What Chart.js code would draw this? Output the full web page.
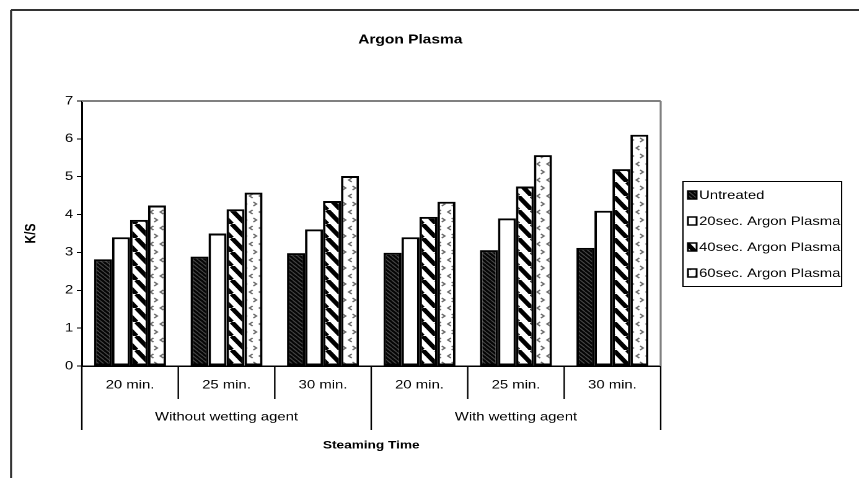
<!DOCTYPE html>
<html>
<head>
<meta charset="utf-8">
<script src="https://cdn.jsdelivr.net/npm/chart.js@4/dist/chart.umd.min.js"></script>
<style>
  html, body { margin: 0; padding: 0; background: #fff; overflow: hidden; }
  /* the original picture is stretched sideways, so the chart is drawn narrower and scaled */
  #wrap { position: absolute; left: 0; top: 0; width: 693px; height: 478px;
          transform: scaleX(1.2395); transform-origin: 0 0; }
</style>
</head>
<body>
<div id="wrap"><canvas id="chart"></canvas></div>
<script>
const categories = ["20 min.", "25 min.", "30 min.", "20 min.", "25 min.", "30 min."];
const groups = ["Without wetting agent", "With wetting agent"];
const groupSize = 3;
const seriesNames = ["Untreated", "20sec. Argon Plasma", "40sec. Argon Plasma", "60sec. Argon Plasma"];
const untreated = [2.82, 2.89, 2.98, 2.99, 3.06, 3.12];
const argon20 = [3.40, 3.50, 3.61, 3.40, 3.90, 4.10];
const argon40 = [3.86, 4.14, 4.36, 3.94, 4.74, 5.20];
const argon60 = [4.24, 4.58, 5.02, 4.34, 5.57, 6.11];
const yTicks = [0, 1, 2, 3, 4, 5, 6, 7];

const FONT = "'Liberation Sans', Arial, sans-serif";
Chart.defaults.font.family = FONT;
Chart.defaults.color = "#000";

// pattern tiles are drawn at 2x and scaled back for crisp fills
function makePattern(w, h, draw) {
  const c = document.createElement("canvas");
  c.width = w * 2;
  c.height = h * 2;
  const g = c.getContext("2d");
  g.scale(2, 2);
  draw(g, w, h);
  const p = document.createElement("canvas").getContext("2d").createPattern(c, "repeat");
  p.setTransform(new DOMMatrix().scale(0.5));
  return p;
}

function diag(g, w, h) {
  g.beginPath();
  [-w, 0, w].forEach(function (o) {
    g.moveTo(o, 0);
    g.lineTo(o + w, h);
  });
  g.stroke();
}

const darkHatch = makePattern(4, 4, function (g, w, h) {
  g.fillStyle = "#050505";
  g.fillRect(0, 0, w, h);
  g.strokeStyle = "#474747";
  g.lineWidth = 1;
  diag(g, w, h);
});

const plain = "#ffffff";

const wideStripes = makePattern(11, 14, function (g, w, h) {
  g.fillStyle = "#fff";
  g.fillRect(0, 0, w, h);
  g.strokeStyle = "#000";
  g.lineWidth = 4;
  diag(g, w, h);
});

const chevrons = makePattern(8, 16, function (g, w, h) {
  g.fillStyle = "#fff";
  g.fillRect(0, 0, w, h);
  g.strokeStyle = "#6a6a6a";
  g.lineWidth = 1.3;
  g.beginPath();
  g.moveTo(3.8, 2); g.lineTo(1.3, 4); g.lineTo(3.8, 6);
  g.moveTo(4.4, 10); g.lineTo(6.9, 12); g.lineTo(4.4, 14);
  g.stroke();
});

const fills = [darkHatch, plain, wideStripes, chevrons];
const seriesData = [untreated, argon20, argon40, argon60];

const extras = {
  id: "extras",
  afterDraw(chart) {
    const ctx = chart.ctx;
    const area = chart.chartArea;
    const xs = chart.scales.x;
    const step = xs.getPixelForValue(1) - xs.getPixelForValue(0);
    ctx.save();

    // outer frame (top and left only, as in the picture)
    ctx.strokeStyle = "#333";
    ctx.lineWidth = 2;
    ctx.beginPath();
    ctx.moveTo(8.9, 10); ctx.lineTo(693, 10);
    ctx.stroke();
    ctx.lineWidth = 1.6;
    ctx.beginPath();
    ctx.moveTo(8.9, 10); ctx.lineTo(8.9, 478);
    ctx.stroke();

    // grey plot border, top and right
    ctx.strokeStyle = "#808080";
    ctx.lineWidth = 2;
    ctx.beginPath();
    ctx.moveTo(area.left, area.top); ctx.lineTo(area.right, area.top);
    ctx.stroke();
    ctx.lineWidth = 1.6;
    ctx.beginPath();
    ctx.moveTo(area.right, area.top); ctx.lineTo(area.right, area.bottom);
    ctx.stroke();

    // category boxes under the axis
    ctx.strokeStyle = "#000";
    ctx.lineWidth = 1.2;
    for (let i = 0; i <= categories.length; i++) {
      const xb = xs.getPixelForValue(i) - step / 2;
      const major = i % groupSize === 0;
      ctx.beginPath();
      ctx.moveTo(xb, area.bottom);
      ctx.lineTo(xb, major ? 430 : 399);
      ctx.stroke();
    }
    ctx.fillStyle = "#000";
    ctx.font = "12px " + FONT;
    ctx.textAlign = "center";
    ctx.textBaseline = "middle";
    categories.forEach(function (c, i) {
      ctx.fillText(c, xs.getPixelForValue(i), 385);
    });
    groups.forEach(function (gname, k) {
      const a = xs.getPixelForValue(k * groupSize);
      const b = xs.getPixelForValue(k * groupSize + groupSize - 1);
      ctx.fillText(gname, (a + b) / 2, 417);
    });

    // title
    ctx.font = "bold 12.5px " + FONT;
    ctx.fillText("Argon Plasma", 331, 40);

    // legend
    ctx.lineWidth = 1;
    ctx.strokeRect(551, 181.5, 128, 105);
    ctx.font = "12px " + FONT;
    ctx.textAlign = "left";
    seriesNames.forEach(function (name, i) {
      const y = 195 + i * 26;
      ctx.fillStyle = fills[i];
      ctx.fillRect(555, y - 4, 7, 8);
      ctx.lineWidth = 1.5;
      ctx.strokeRect(555, y - 4, 7, 8);
      ctx.fillStyle = "#000";
      ctx.fillText(name, 564, y + 0.5);
    });
    ctx.restore();
  }
};

const ctx = document.getElementById("chart").getContext("2d");
const chart = new Chart(ctx, {
  type: "bar",
  data: {
    labels: categories,
    datasets: seriesNames.map(function (name, i) {
      return {
        label: name,
        data: seriesData[i],
        backgroundColor: fills[i],
        borderColor: "#000",
        borderWidth: 2,
        borderSkipped: false,
        categoryPercentage: 0.746,
        barPercentage: 1
      };
    })
  },
  options: {
    responsive: true,
    maintainAspectRatio: false,
    animation: false,
    devicePixelRatio: 2,
    events: [],
    layout: { padding: { left: 0, right: 160, top: 101, bottom: 22 } },
    plugins: {
      legend: { display: false },
      title: { display: false },
      tooltip: { enabled: false }
    },
    scales: {
      x: {
        ticks: { display: false },
        grid: { display: false },
        border: { color: "#000", width: 1.5 },
        title: {
          display: true,
          text: "Steaming Time",
          font: { size: 11, weight: "bold" },
          padding: { top: 4, bottom: 4 }
        },
        afterFit(s) { s.height = 90; }
      },
      y: {
        min: 0,
        max: 7,
        afterBuildTicks(s) { s.ticks = yTicks.map(function (v) { return { value: v }; }); },
        ticks: { font: { size: 12 }, padding: 3 },
        grid: { drawOnChartArea: false, color: "#000", tickLength: 4 },
        border: { color: "#000", width: 1.5 },
        title: {
          display: true,
          text: "K/S",
          font: { size: 12, weight: "bold" },
          padding: { top: 18, bottom: 0 }
        },
        afterFit(s) { s.width = 66; }
      }
    }
  },
  plugins: [extras]
});
</script>
</body>
</html>
